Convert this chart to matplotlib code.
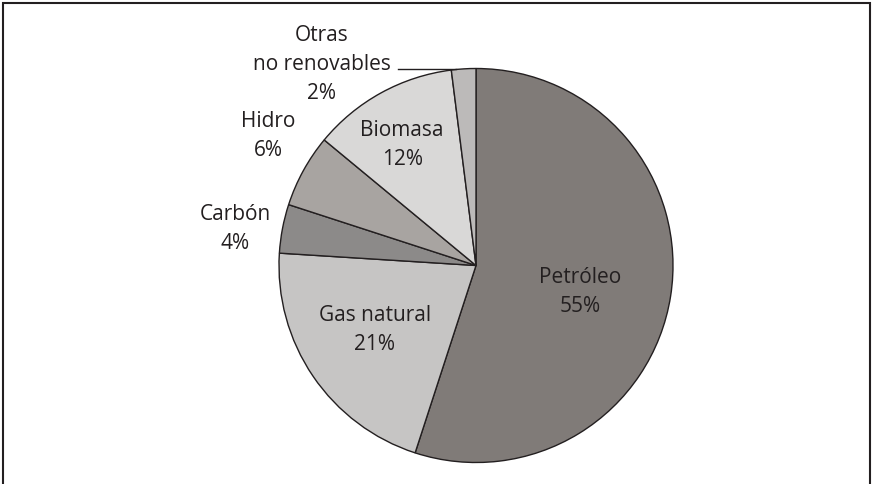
import numpy as np
import matplotlib
matplotlib.use('Agg')
import matplotlib.pyplot as plt
from matplotlib.patches import Rectangle

# data
labels = ['Petróleo', 'Gas natural', 'Carbón', 'Hidro', 'Biomasa', 'Otras\nno renovables']
shares = [55, 21, 4, 6, 12, 2]
colors = ['#807b78', '#c6c5c4', '#8c8a89', '#a8a4a1', '#d9d8d7', '#bcbab9']

# label placement: (radius, angle shift in degrees) relative to wedge mid
place = [(0.544, -5.0), (0.606, -2.0), (1.238, 2.0), (1.246, -3.3), (0.724, 2.4), None]

plt.rcParams['font.family'] = ['Open Sans', 'DejaVu Sans']
W, H = 873, 485
fig = plt.figure(figsize=(W / 100, H / 100), dpi=100)
ax = fig.add_axes([0, 0, 1, 1])

cx, cy, R = 476, 266.5, 197
wedges, _ = ax.pie(shares, colors=colors, startangle=90, counterclock=False,
                   wedgeprops=dict(edgecolor='#231f20', linewidth=1.0))
ax.set_xlim(-cx / R, (W - cx) / R)
ax.set_ylim((cy - H) / R, cy / R)
ax.set_aspect('auto')
ax.axis('off')

txt = dict(ha='center', va='center', fontsize=15, color='#231f20', linespacing=1.5)
for w, lab, val, p in zip(wedges, labels, shares, place):
    if p is None:
        continue
    r, shift = p
    ang = np.deg2rad((w.theta1 + w.theta2) / 2 + shift)
    ax.text(r * np.cos(ang), r * np.sin(ang), f'{lab}\n{val}%', **txt)

# small slice with leader line
w = wedges[-1]
ly = 0.995
lx = -np.sqrt(1 - ly ** 2)
ax.plot([lx, -0.396], [ly, ly], color='#231f20', lw=1.0)
ax.text(-0.782, 1.023, f'{labels[-1]}\n{shares[-1]}%', **txt)

# outer frame (open at the bottom)
fig.patches.append(Rectangle((3 / W, -0.05), 867 / W, 1.05 - 4 / H, transform=fig.transFigure,
                             fill=False, edgecolor='#231f20', linewidth=1.5))

fig.savefig('out.png', dpi=100)
